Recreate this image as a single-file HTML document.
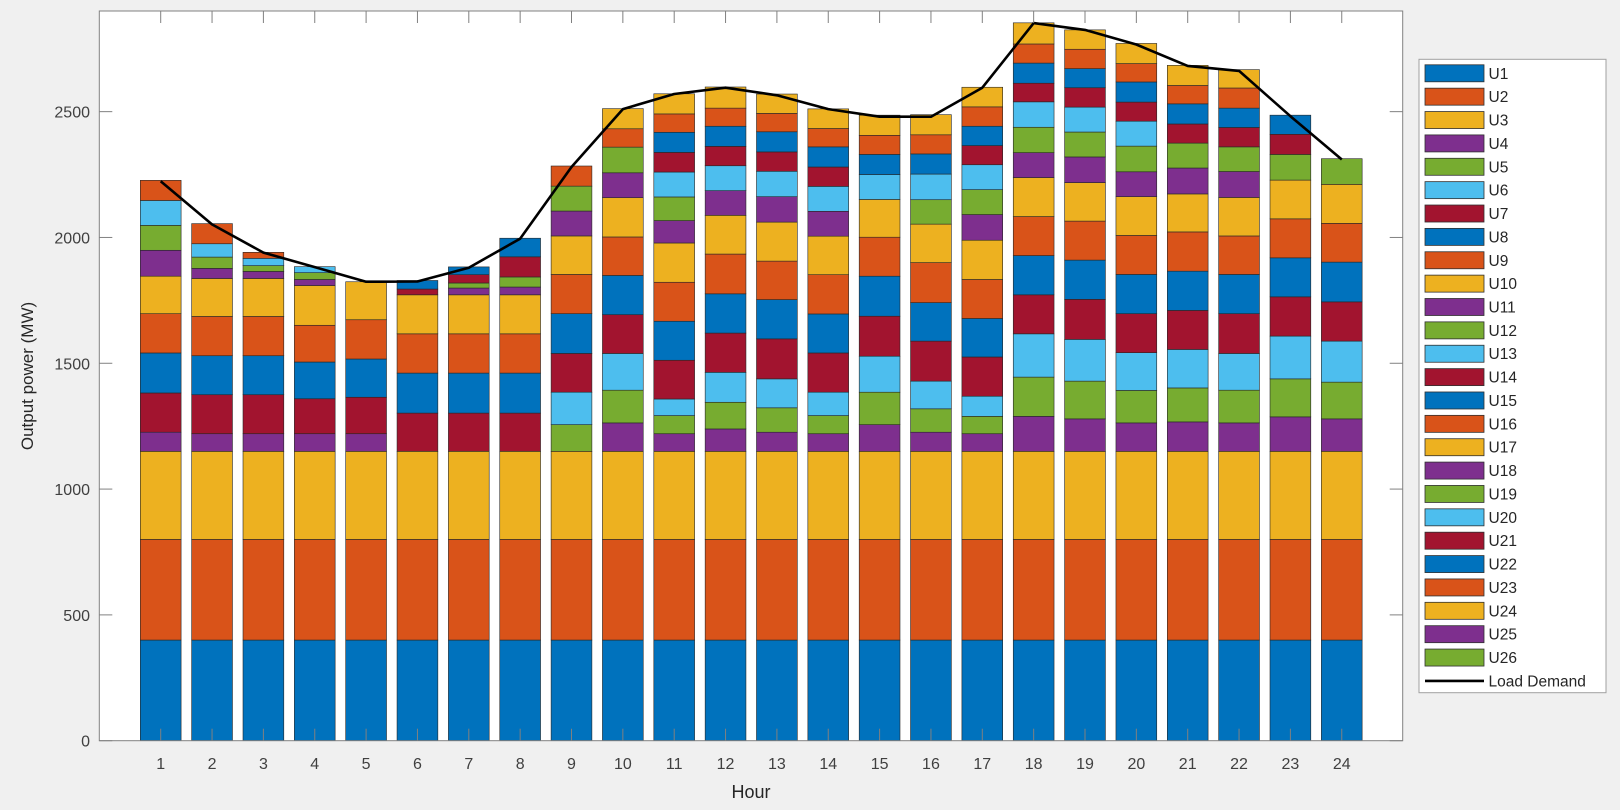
<!DOCTYPE html>
<html><head><meta charset="utf-8">
<style>
html,body{margin:0;padding:0;background:#f0f0f0;}
svg{display:block;font-family:"Liberation Sans",Arial,sans-serif;}
</style></head>
<body>
<svg id="chart" width="1620" height="810" viewBox="0 0 1620 810" xmlns="http://www.w3.org/2000/svg">
<rect x="0" y="0" width="1620" height="810" fill="#f0f0f0"/>
<rect x="99.3" y="11" width="1303.4" height="729.7" fill="#ffffff"/>
<g id="bars"></g>
<g id="line"></g>
<g id="axes"></g>
<text x="33" y="376" transform="rotate(-90 33 376)" text-anchor="middle" font-size="17" fill="#262626">Output power (MW)</text>
<text x="751" y="798" text-anchor="middle" font-size="18" fill="#262626">Hour</text>
<g id="legend"></g>
</svg>
<script>
const hours = [1,2,3,4,5,6,7,8,9,10,11,12,13,14,15,16,17,18,19,20,21,22,23,24];
const U1 = [400,400,400,400,400,400,400,400,400,400,400,400,400,400,400,400,400,400,400,400,400,400,400,400];
const U2 = [400,400,400,400,400,400,400,400,400,400,400,400,400,400,400,400,400,400,400,400,400,400,400,400];
const U3 = [350,350,350,350,350,350,350,350,350,350,350,350,350,350,350,350,350,350,350,350,350,350,350,350];
const U4 = [76,70,70,70,70,0,0,0,0,113,70,89,76,70,106,76,70,139,129,113,117,113,137,129];
const U5 = [0,0,0,0,0,0,0,0,106,130,72,106,97,72,129,93,69,156,150,129,135,130,151,146];
const U6 = [0,0,0,0,0,0,0,0,129,146,66,119,115,93,143,110,80,172,166,150,153,146,170,163];
const U7 = [156,155,155,139,145,152,152,152,154,154,154,156,159,156,159,159,156,155,159,155,155,158,156,156];
const U8 = [159,155,155,146,152,159,159,159,158,156,155,156,156,155,159,153,153,156,156,156,156,156,155,158];
const U9 = [156,156,156,146,156,156,156,156,156,153,155,158,153,156,155,159,155,155,155,155,156,153,155,154];
const U10 = [149,151,151,158,151,155,155,155,153,156,156,154,155,153,150,153,156,155,153,154,151,153,154,155];
const U11 = [103,40,28,24,0,0,27,31,99,99,89,98,101,99,0,0,102,99,102,99,103,103,0,0];
const U12 = [99,45,23,27,0,0,20,40,99,102,94,0,0,0,0,97,99,101,99,102,99,98,102,102];
const U13 = [99,53,29,24,0,0,0,0,0,0,99,99,101,99,99,102,99,101,99,99,0,0,0,0];
const U14 = [0,0,0,0,0,23,33,80,0,0,78,77,77,77,0,0,76,74,77,76,76,77,80,0];
const U15 = [0,0,0,0,0,34,31,74,0,0,80,80,80,80,80,80,77,80,76,80,80,77,76,0];
const U16 = [80,80,24,0,0,0,0,0,80,73,73,72,73,73,76,76,77,76,77,73,73,80,0,0];
const U17 = [0,0,0,0,0,0,0,0,0,80,80,84,77,78,80,80,78,84,77,80,80,73,0,0];
const U18 = [0,0,0,0,0,0,0,0,0,0,0,0,0,0,0,0,0,0,0,0,0,0,0,0];
const U19 = [0,0,0,0,0,0,0,0,0,0,0,0,0,0,0,0,0,0,0,0,0,0,0,0];
const U20 = [0,0,0,0,0,0,0,0,0,0,0,0,0,0,0,0,0,0,0,0,0,0,0,0];
const U21 = [0,0,0,0,0,0,0,0,0,0,0,0,0,0,0,0,0,0,0,0,0,0,0,0];
const U22 = [0,0,0,0,0,0,0,0,0,0,0,0,0,0,0,0,0,0,0,0,0,0,0,0];
const U23 = [0,0,0,0,0,0,0,0,0,0,0,0,0,0,0,0,0,0,0,0,0,0,0,0];
const U24 = [0,0,0,0,0,0,0,0,0,0,0,0,0,0,0,0,0,0,0,0,0,0,0,0];
const U25 = [0,0,0,0,0,0,0,0,0,0,0,0,0,0,0,0,0,0,0,0,0,0,0,0];
const U26 = [0,0,0,0,0,0,0,0,0,0,0,0,0,0,0,0,0,0,0,0,0,0,0,0];
const loadDemand = [2223,2052,1940,1882,1824,1825,1880,1995,2280,2510,2570,2595,2565,2510,2480,2480,2595,2852,2825,2767,2682,2662,2482,2310];
const unitNames = ["U1","U2","U3","U4","U5","U6","U7","U8","U9","U10","U11","U12","U13","U14","U15","U16","U17","U18","U19","U20","U21","U22","U23","U24","U25","U26"];
const yTicks = [0,500,1000,1500,2000,2500];
const units = [U1,U2,U3,U4,U5,U6,U7,U8,U9,U10,U11,U12,U13,U14,U15,U16,U17,U18,U19,U20,U21,U22,U23,U24,U25,U26];

const NS = "http://www.w3.org/2000/svg";
const palette = ["#0072BD","#D95319","#EDB120","#7E2F8E","#77AC30","#4DBEEE","#A2142F"];
const PL = 99.3, PR = 1402.7, PT = 11, PB = 740.7, YMAX = 2900;
function xScale(h){ return 160.7 + (h - 1) * 51.35; }
function yScale(v){ return PB - v * (PB - PT) / YMAX; }
function mk(tag, attrs, parent){ const e = document.createElementNS(NS, tag); for (const k in attrs) e.setAttribute(k, attrs[k]); parent.appendChild(e); return e; }

const barsG = document.getElementById('bars');
const bw = 40.8;
hours.forEach((h, i) => {
  let cum = 0;
  units.forEach((arr, u) => {
    const v = arr[i];
    if (v <= 0) return;
    const y0 = yScale(cum), y1 = yScale(cum + v);
    const r = mk('rect', {x: xScale(h) - bw/2, y: y1, width: bw, height: y0 - y1, fill: palette[u % 7], stroke: '#262626', 'stroke-width': 0.6}, barsG);
    
    
    cum += v;
  });
});

const lineG = document.getElementById('line');
const pts = hours.map((h, i) => xScale(h).toFixed(1) + ',' + yScale(loadDemand[i]).toFixed(1)).join(' ');
const pl = mk('polyline', {points: pts, fill: 'none', stroke: '#000', 'stroke-width': 2.6, 'stroke-linejoin': 'round'}, lineG);



const axG = document.getElementById('axes');
const box = mk('rect', {x: PL, y: PT, width: PR - PL, height: PB - PT, fill: 'none', stroke: '#808080', 'stroke-width': 1}, axG);


yTicks.forEach(t => {
  const y = yScale(t);
  mk('line', {x1: PL, x2: PL + 13, y1: y, y2: y, stroke: '#808080', 'stroke-width': 1}, axG);
  mk('line', {x1: PR - 13, x2: PR, y1: y, y2: y, stroke: '#808080', 'stroke-width': 1}, axG);
  const tx = mk('text', {x: 90, y: y + 6, 'text-anchor': 'end', 'font-size': 16, fill: '#404040'}, axG);
  tx.textContent = t;
  
  
});
hours.forEach(h => {
  const x = xScale(h);
  mk('line', {x1: x, x2: x, y1: PB, y2: PB - 12, stroke: '#808080', 'stroke-width': 1}, axG);
  mk('line', {x1: x, x2: x, y1: PT, y2: PT + 12, stroke: '#808080', 'stroke-width': 1}, axG);
  const tx = mk('text', {x: x, y: 769, 'text-anchor': 'middle', 'font-size': 16, fill: '#404040'}, axG);
  tx.textContent = h;
  
  
});

const lg = document.getElementById('legend');
const lbox = mk('rect', {x: 1419, y: 59.3, width: 187, height: 633.4, fill: '#fff', stroke: '#a0a0a0', 'stroke-width': 1}, lg);


unitNames.forEach((n, u) => {
  const cy = 73.3 + u * 23.37;
  const sw = mk('rect', {x: 1425, y: cy - 8.5, width: 59, height: 17, fill: palette[u % 7], stroke: '#303030', 'stroke-width': 0.8}, lg);
  
  
  const t = mk('text', {x: 1488.5, y: cy + 5.5, 'font-size': 15.5, fill: '#262626'}, lg);
  t.textContent = n;
  
  
});
{
  const cy = 73.3 + 26 * 23.37;
  const l = mk('line', {x1: 1425, x2: 1484, y1: cy, y2: cy, stroke: '#000', 'stroke-width': 2.6}, lg);
  
  
  const t = mk('text', {x: 1488.5, y: cy + 5.5, 'font-size': 15.5, fill: '#262626'}, lg);
  t.textContent = 'Load Demand';
  
  
}
</script>
</body></html>
